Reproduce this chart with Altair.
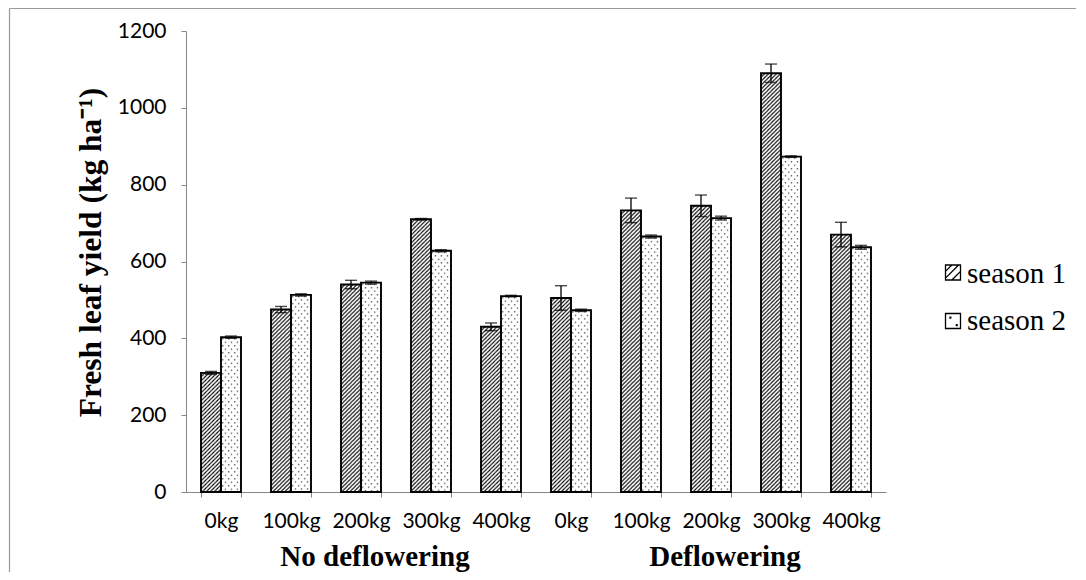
import base64
import altair as alt
import pandas as pd

groups = ["No deflowering", "Deflowering"]
doses = ["0kg", "100kg", "200kg", "300kg", "400kg"]
seasons = ["season 1", "season 2"]
season1 = [310, 475, 540, 710, 430, 505, 733, 745, 1090, 670]
season2 = [403, 513, 545, 628, 510, 473, 665, 713, 873, 637]
err1 = [4, 8, 11, 2, 10, 32, 32, 28, 24, 32]
err2 = [3, 3, 4, 3, 2, 3, 4, 5, 2, 5]

keys = [f"{g}|{d}" for g in groups for d in doses]
rows = []
for i, k in enumerate(keys):
    g, d = k.split("|")
    rows.append({"key": k, "group": g, "dose": d, "season": seasons[0], "value": season1[i], "err": err1[i]})
    rows.append({"key": k, "group": g, "dose": d, "season": seasons[1], "value": season2[i], "err": err2[i]})
df = pd.DataFrame(rows)
gdf = pd.DataFrame({"key": [f"{g}|{doses[2]}" for g in groups], "label": groups})
frame_df = pd.DataFrame({"a": [0]})


def svg_uri(svg):
    return "data:image/svg+xml;base64," + base64.b64encode(svg.encode()).decode()


hatch_uri = svg_uri(
    '<svg xmlns="http://www.w3.org/2000/svg">'
    '<defs><pattern id="h" width="4" height="4" patternUnits="userSpaceOnUse">'
    '<path d="M-1,1 L1,-1 M0,4 L4,0 M3,5 L5,3" stroke="#000" stroke-width="1.1"/>'
    '</pattern></defs>'
    '<rect width="100%" height="100%" fill="#fff"/>'
    '<rect width="100%" height="100%" fill="url(#h)"/></svg>'
)
dots_uri = svg_uri(
    '<svg xmlns="http://www.w3.org/2000/svg">'
    '<defs><pattern id="d" width="6" height="7" patternUnits="userSpaceOnUse">'
    '<rect x="1" y="1" width="1.2" height="1.2" fill="#222"/>'
    '<rect x="4" y="4.5" width="1.2" height="1.2" fill="#222"/>'
    '</pattern></defs>'
    '<rect width="100%" height="100%" fill="#fff"/>'
    '<rect width="100%" height="100%" fill="url(#d)"/></svg>'
)

hatch_path = "M-1,-1H1V1H-1Z M-1,-0.15L-0.15,-1 M-1,0.75L0.75,-1 M-0.15,1L1,-0.15"
dots_path = "M-1,-1H1V1H-1Z M-0.4,-0.5h0.1v0.1h-0.1Z M0.45,0.5h0.1v0.1h-0.1Z"

AXC = "#868686"
x_axis = alt.Axis(
    title=None, labelExpr="split(datum.label, '|')[1]", labelAngle=0,
    labelFont="Lato", labelFontSize=21, labelColor="#000",
    labelBaseline="alphabetic", labelPadding=30,
    tickBand="extent", tickSize=5, tickColor=AXC, domainColor=AXC,
    grid=False,
)
x_scale = alt.Scale(domain=keys, paddingInner=0.4286, paddingOuter=0.2143)
y_axis = alt.Axis(
    title="Fresh leaf yield (kg ha⁻¹)", values=[0, 200, 400, 600, 800, 1000, 1200],
    format="d",
    labelFont="Lato", labelFontSize=21, labelColor="#000", labelPadding=15,
    tickSize=5, tickColor=AXC, domainColor=AXC, grid=False,
    titleFont="Liberation Serif", titleFontWeight="bold", titleFontSize=31.5,
    titleColor="#000", titleAngle=270, titleAlign="center",
    titleBaseline="alphabetic", titleX=-86, titleY=221,
)
y_scale = alt.Scale(domain=[0, 1200], nice=False)


def X():
    return alt.X("key:N", sort=keys, scale=x_scale, axis=x_axis)


def Y(field):
    return alt.Y(f"{field}:Q", scale=y_scale, axis=y_axis)


xo = alt.XOffset("season:N", sort=seasons,
                 scale=alt.Scale(domain=seasons, paddingInner=0, paddingOuter=0))

base = alt.Chart(df)
img1 = base.transform_filter(alt.datum.season == seasons[0]).mark_image(aspect=False).encode(
    x=X(), xOffset=xo, y=Y("value"), y2=alt.datum(0), url=alt.value(hatch_uri))
img2 = base.transform_filter(alt.datum.season == seasons[1]).mark_image(aspect=False).encode(
    x=X(), xOffset=xo, y=Y("value"), y2=alt.datum(0), url=alt.value(dots_uri))
outline = base.mark_bar(filled=False, stroke="black", strokeWidth=1.9).encode(
    x=X(), xOffset=xo, y=Y("value"))

eb = base.transform_calculate(lo="datum.value - datum.err", hi="datum.value + datum.err")
rule = eb.mark_rule(color="black", strokeWidth=1.3).encode(
    x=X(), xOffset=xo, y=Y("lo"), y2="hi:Q")
cap_hi = eb.mark_tick(color="black", thickness=1.4, size=12).encode(
    x=X(), xOffset=xo, y=Y("hi"))
cap_lo = eb.mark_tick(color="black", thickness=1.4, size=12).encode(
    x=X(), xOffset=xo, y=Y("lo"))

glabels = alt.Chart(gdf).mark_text(
    font="Liberation Serif", fontWeight="bold", fontSize=29, color="#000",
    baseline="alphabetic", align="center", dx=14).encode(
    x=X(), y=alt.value(535), text="label:N")

# legend (drawn as marks so that the swatches can carry the fill patterns)
leg_items = []
for s, path, sy, ty in ((seasons[0], hatch_path, 241.5, 252), (seasons[1], dots_path, 290, 299)):
    ldf = pd.DataFrame({"season": [s]})
    leg_items.append(alt.Chart(ldf).mark_point(
        shape=path, size=225, filled=True, fill="white", stroke="black",
        strokeWidth=1.3, opacity=1).encode(x=alt.value(767), y=alt.value(sy)))
    leg_items.append(alt.Chart(ldf).mark_text(
        font="Liberation Serif", fontSize=29, color="#000", align="left",
        baseline="alphabetic").encode(x=alt.value(781), y=alt.value(ty), text="season:N"))

frame_left = alt.Chart(frame_df).mark_rule(color="#9a9a9a", strokeWidth=1.2).encode(
    x=alt.value(-176.5), y=alt.value(-22.5), y2=alt.value(600))
frame_top = alt.Chart(frame_df).mark_rule(color="#9a9a9a", strokeWidth=1.2).encode(
    x=alt.value(-176.5), x2=alt.value(1000), y=alt.value(-22.5))

chart = alt.layer(
    img1, img2, outline, rule, cap_hi, cap_lo, glabels, *leg_items, frame_left, frame_top
).properties(
    width=700, height=461,
    padding={"left": 178, "top": 23, "right": 190, "bottom": 80},
    autosize=alt.AutoSizeParams(type="none"),
    background="white",
).configure_view(stroke=None)

chart.save("out.html", embed_options={"renderer": "svg", "actions": False})
